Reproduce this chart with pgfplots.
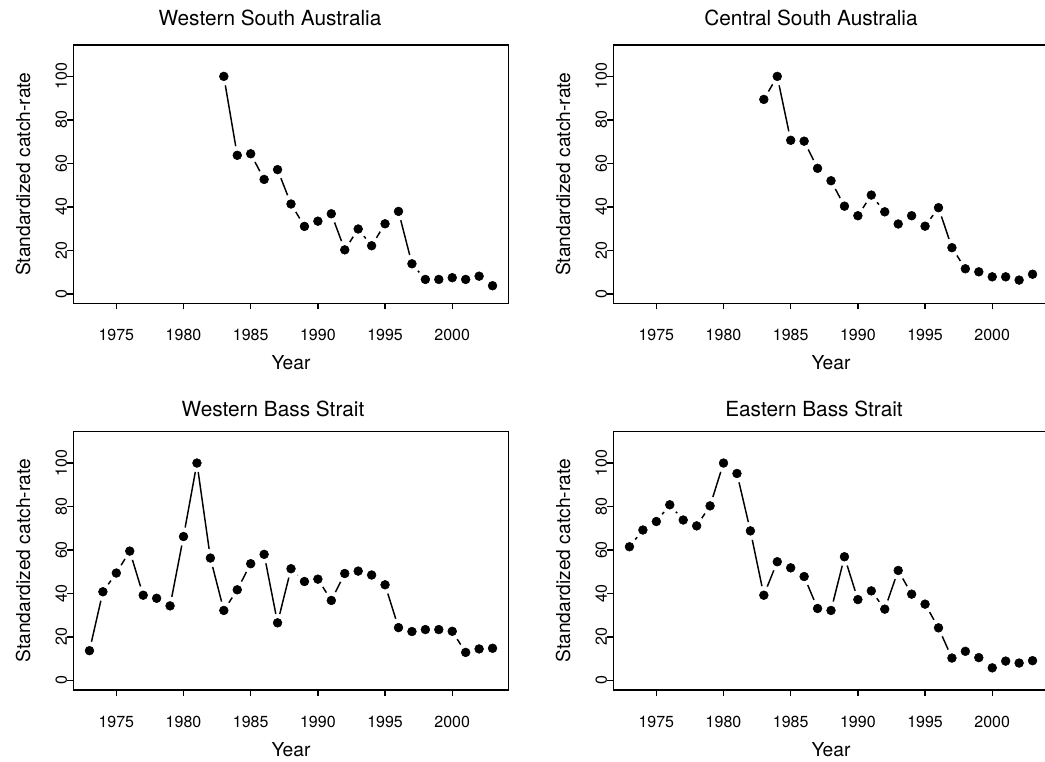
\documentclass[border=0pt]{standalone}
\usepackage{fontspec}
\setmainfont{TeX Gyre Heros}
\usepackage{pgfplots}
\usepackage{pgfplotstable}
\pgfplotsset{compat=1.18}

\pgfplotstableread{
year val
1983 100
1984 63.7
1985 64.4
1986 52.6
1987 57.1
1988 41.3
1989 31.0
1990 33.4
1991 36.8
1992 20.2
1993 29.8
1994 22.1
1995 32.2
1996 37.9
1997 13.8
1998 6.6
1999 6.6
2000 7.4
2001 6.6
2002 8.1
2003 3.7
}\wsa

\pgfplotstableread{
year val
1983 89.4
1984 100
1985 70.6
1986 70.2
1987 57.7
1988 52.0
1989 40.3
1990 35.9
1991 45.4
1992 37.7
1993 32.1
1994 35.9
1995 31.1
1996 39.6
1997 21.2
1998 11.5
1999 10.1
2000 7.8
2001 7.8
2002 6.3
2003 9.0
}\csa

\pgfplotstableread{
year val
1973 13.7
1974 40.8
1975 49.4
1976 59.5
1977 39.2
1978 37.8
1979 34.3
1980 66.2
1981 100
1982 56.3
1983 32.2
1984 41.7
1985 53.7
1986 58.0
1987 26.5
1988 51.4
1989 45.5
1990 46.6
1991 36.8
1992 49.2
1993 50.3
1994 48.5
1995 44.0
1996 24.3
1997 22.5
1998 23.4
1999 23.4
2000 22.6
2001 12.9
2002 14.5
2003 14.8
}\wbs

\pgfplotstableread{
year val
1973 61.5
1974 69.2
1975 73.1
1976 80.8
1977 73.8
1978 71.1
1979 80.3
1980 100
1981 95.2
1982 68.8
1983 39.2
1984 54.6
1985 51.8
1986 47.8
1987 33.1
1988 32.2
1989 56.9
1990 37.2
1991 41.2
1992 32.8
1993 50.6
1994 39.7
1995 35.1
1996 24.2
1997 10.3
1998 13.4
1999 10.5
2000 5.8
2001 8.9
2002 8.0
2003 9.1
}\ebs

\pgfplotsset{
  panel/.style={
    scale only axis, width=326.5pt, height=193.7pt,
    xmin=1971.8, xmax=2004.2, ymin=-4.4, ymax=114.4,
    xtick={1975,1980,...,2000}, ytick={0,20,...,100},
    axis line style={line width=1.1pt},
    every tick/.style={black, line width=1.1pt},
    tick align=outside, major tick length=4.5pt, tick pos=left,
    /pgf/number format/assume math mode=true,
    /pgf/number format/1000 sep={},
    ticklabel style={font=\fontsize{12}{14}\selectfont},
    xticklabel style={anchor=center, yshift=-19.3pt},
    yticklabel style={rotate=90, anchor=center, yshift=4.5pt},
    label style={font=\fontsize{14.4}{17}\selectfont},
    xlabel={Year}, ylabel={Standardized catch-rate},
    xlabel style={at={(axis description cs:0.5,-0.229)}, anchor=center},
    ylabel style={at={(axis description cs:-0.1156,0.5)}, anchor=center},
    axis on top, clip=false,
  },
  ser/.style={black, line width=1.1pt, no marks},
  gap/.style={only marks, mark=*, mark size=6.7pt, white, mark options={draw=white, fill=white}},
  dot/.style={only marks, mark=*, mark size=3.3pt, black, mark options={draw=black, fill=black}},
}

\begin{document}
\begin{tikzpicture}
\begin{axis}[panel, at={(55pt,-227.5pt)}, anchor=south west]
  \addplot[ser] table[x=year, y=val] {\wsa};
  \addplot[gap] table[x=year, y=val] {\wsa};
  \addplot[dot] table[x=year, y=val] {\wsa};
\end{axis}
\begin{axis}[panel, at={(460pt,-227.5pt)}, anchor=south west]
  \addplot[ser] table[x=year, y=val] {\csa};
  \addplot[gap] table[x=year, y=val] {\csa};
  \addplot[dot] table[x=year, y=val] {\csa};
\end{axis}
\begin{axis}[panel, at={(55pt,-517.5pt)}, anchor=south west]
  \addplot[ser] table[x=year, y=val] {\wbs};
  \addplot[gap] table[x=year, y=val] {\wbs};
  \addplot[dot] table[x=year, y=val] {\wbs};
\end{axis}
\begin{axis}[panel, at={(460pt,-517.5pt)}, anchor=south west]
  \addplot[ser] table[x=year, y=val] {\ebs};
  \addplot[gap] table[x=year, y=val] {\ebs};
  \addplot[dot] table[x=year, y=val] {\ebs};
\end{axis}
\begin{scope}[x=0.75pt, y=-0.75pt, font=\fontsize{15.6}{18}\selectfont]
  \node[anchor=base, inner sep=0pt] at (270,25.5) {Western South Australia};
  \node[anchor=base, inner sep=0pt] at (811,25.5) {Central South Australia};
  \node[anchor=base, inner sep=0pt] at (273,416.7) {Western Bass Strait};
  \node[anchor=base, inner sep=0pt] at (814,416.7) {Eastern Bass Strait};
  \pgfresetboundingbox
  \path[use as bounding box] (0,0) rectangle (1045,761);
\end{scope}
\end{tikzpicture}
\end{document}
